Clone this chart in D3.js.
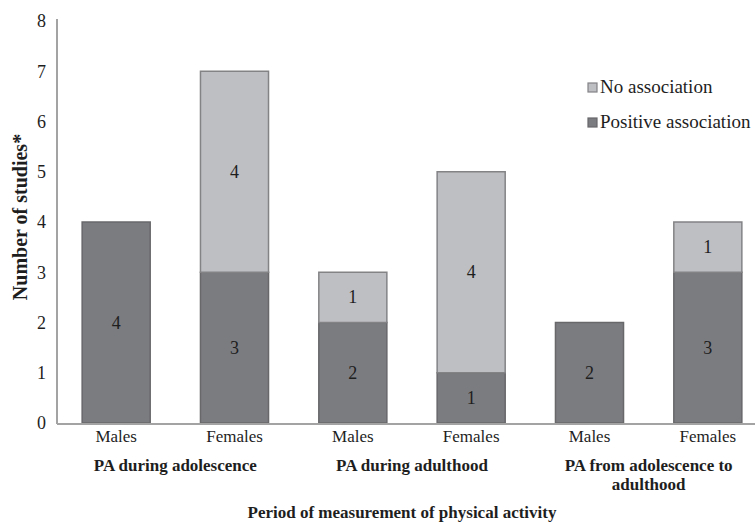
<!DOCTYPE html>
<html><head><meta charset="utf-8">
<script src="https://cdn.jsdelivr.net/npm/d3@7"></script>
<style>body{margin:0;background:#fff}svg{display:block}svg text{font-family:"Liberation Serif","Times New Roman",Times,serif}</style>
</head><body>
<svg id="c" width="755" height="523"></svg>
<script>
const categories = ["Males","Females","Males","Females","Males","Females"];
const groups = [["PA during adolescence"],["PA during adulthood"],["PA from adolescence to","adulthood"]];
const positive = [4,3,2,1,2,3];
const noAssoc = [0,4,1,4,0,1];
const yTicks = [0,1,2,3,4,5,6,7,8];
const seriesNames = ["No association","Positive association"];

const FONT = "'Liberation Serif','Times New Roman',Times,serif";
const svg = d3.select("#c");
const W=755,H=523;
const x0=57, x1=767, yTop=21, yBot=423;
const x = d3.scaleBand().domain(d3.range(categories.length)).range([x0,x1]).paddingInner(0.425).paddingOuter(0.2125);
const y = d3.scaleLinear().domain([0,8]).range([yBot,yTop]);
const colDark="#7b7c80", colLight="#bebfc3", strokeDark="#68686b", strokeLight="#838386";
const txt="#1e1e1e";

// y axis
const yAxis = d3.axisLeft(y).tickValues(yTicks).tickSize(0).tickPadding(11).tickFormat(d3.format("d"));
const ga = svg.append("g").attr("transform",`translate(${x0},0)`).call(yAxis).attr("font-family",FONT);
ga.select(".domain").remove();
ga.selectAll("text").attr("font-size",18).attr("fill",txt);

// bars
const data = categories.map((c,i)=>({i,c,p:positive[i],n:noAssoc[i]}));
const g = svg.append("g");
data.forEach(d=>{
  g.append("rect").attr("x",x(d.i)).attr("width",x.bandwidth())
   .attr("y",y(d.p)).attr("height",y(0)-y(d.p))
   .attr("fill",colDark).attr("stroke",strokeDark).attr("stroke-width",1.5);
  if(d.n>0){
    g.append("rect").attr("x",x(d.i)).attr("width",x.bandwidth())
     .attr("y",y(d.p+d.n)).attr("height",y(d.p)-y(d.p+d.n))
     .attr("fill",colLight).attr("stroke",strokeLight).attr("stroke-width",1.5);
  }
  g.append("text").attr("x",x(d.i)+x.bandwidth()/2).attr("y",y(d.p/2)+6)
   .attr("text-anchor","middle").attr("font-size",18).attr("fill",txt).text(d.p);
  if(d.n>0){
    g.append("text").attr("x",x(d.i)+x.bandwidth()/2).attr("y",y(d.p+d.n/2)+6)
     .attr("text-anchor","middle").attr("font-size",18).attr("fill",txt).text(d.n);
  }
});

// axis lines
svg.append("line").attr("x1",x0).attr("x2",x0).attr("y1",yTop-2).attr("y2",yBot+1).attr("stroke","#a3a3a3").attr("stroke-width",2);
svg.append("line").attr("x1",x0).attr("x2",W).attr("y1",yBot+1).attr("y2",yBot+1).attr("stroke","#a3a3a3").attr("stroke-width",2);

// x category labels
const xAxis = d3.axisBottom(x).tickSize(0).tickPadding(6).tickFormat(i=>categories[i]);
const gx = svg.append("g").attr("transform",`translate(0,${yBot+1})`).call(xAxis).attr("font-family",FONT);
gx.select(".domain").remove();
gx.selectAll("text").attr("font-size",17).attr("fill",txt);

// group labels
groups.forEach((lines,gi)=>{
  const cx = (x(gi*2)+x(gi*2+1)+x.bandwidth())/2;
  lines.forEach((t,li)=>{
    svg.append("text").attr("x",cx).attr("y",471+li*19).attr("text-anchor","middle")
      .attr("font-size",17).attr("font-weight","bold").attr("fill",txt).text(t);
  });
});

// axis titles
svg.append("text").attr("x",402).attr("y",518).attr("text-anchor","middle")
  .attr("font-size",17).attr("font-weight","bold").attr("fill",txt).text("Period of measurement of physical activity");
svg.append("text").attr("transform","translate(27,217) rotate(-90)").attr("text-anchor","middle")
  .attr("font-size",20).attr("font-weight","bold").attr("fill",txt).text("Number of studies*");

// legend
const leg = svg.append("g");
[[colLight,strokeLight],[colDark,strokeDark]].forEach((c,i)=>{
  const ly = 93 + i*35;
  leg.append("rect").attr("x",588).attr("y",ly-10).attr("width",9).attr("height",9)
    .attr("fill",c[0]).attr("stroke",c[1]).attr("stroke-width",1.2);
  leg.append("text").attr("x",600).attr("y",ly).attr("font-size",19).attr("fill",txt).text(seriesNames[i]);
});
</script>
</body></html>
